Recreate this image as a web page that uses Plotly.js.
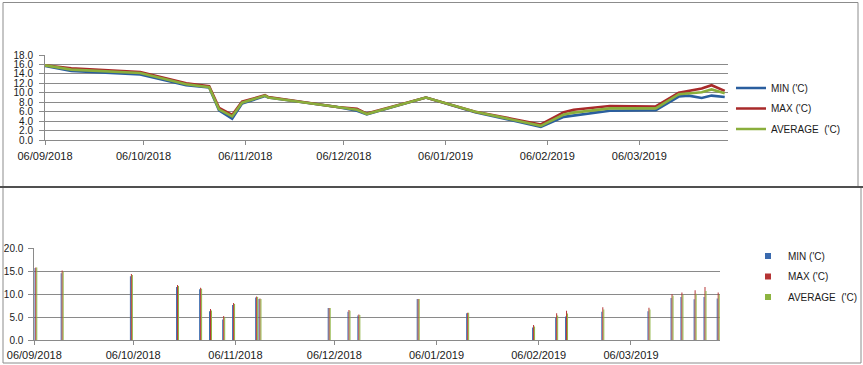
<!DOCTYPE html>
<html>
<head>
<meta charset="utf-8">
<script src="https://cdn.plot.ly/plotly-3.0.1.min.js"></script>
<style>html,body{margin:0;padding:0;background:#fff;}#chart{width:863px;height:365px;}</style>
</head>
<body>
<div id="chart"></div>
<script>
// ---- data ----
var dates = ['2018-09-06','2018-09-14','2018-10-05','2018-10-19','2018-10-26','2018-10-29','2018-11-02','2018-11-05','2018-11-12','2018-11-13','2018-12-04','2018-12-10','2018-12-13','2018-12-31','2019-01-15','2019-02-04','2019-02-11','2019-02-14','2019-02-25','2019-03-11','2019-03-18','2019-03-21','2019-03-25','2019-03-28','2019-04-01'];
var minVals = [15.7,14.6,13.9,11.6,11.1,6.3,4.5,7.7,9.3,9.0,7.0,6.2,5.4,9.0,5.9,2.8,4.9,5.2,6.2,6.3,9.2,9.4,8.9,9.4,9.1];
var maxVals = [15.8,15.2,14.4,12.0,11.4,6.8,5.3,8.1,9.5,9.1,7.0,6.6,5.6,9.0,6.0,3.3,5.9,6.4,7.2,7.1,10.0,10.4,10.9,11.6,10.4];
var avgVals = [15.8,14.9,14.2,11.8,11.2,6.5,5.0,7.9,9.4,9.0,7.0,6.4,5.5,9.0,6.0,3.0,5.4,5.8,6.7,6.7,9.7,9.9,10.1,10.7,9.9];
var seriesNames = ["MIN ('C)", "MAX ('C)", "AVERAGE \u00a0('C)"];
var tickDates = ['2018-09-06','2018-10-06','2018-11-06','2018-12-06','2019-01-06','2019-02-06','2019-03-06'];
var tickLabels = ['06/09/2018','06/10/2018','06/11/2018','06/12/2018','06/01/2019','06/02/2019','06/03/2019'];
var topYTicks = [0,2,4,6,8,10,12,14,16,18];
var botYTicks = [0,5,10,15,20];

// ---- styles ----
var lineColors = ['#2A5E9E','#A82A2A','#8AAE3C'];
var barColors = ['#3A6AAE','#B53434','#8DB440'];
var FONT = 'Liberation Sans, Arial, sans-serif';
var DAY = 86400000;
var W = 863, H = 365;
function px(x){return x/W;}
function py(y){return 1 - y/H;}
var gridC = '#8a8a8a';

var series = [minVals, maxVals, avgVals];
var traces = [];
series.forEach(function(vals, i){
  traces.push({
    type:'scatter', mode:'lines', x:dates, y:vals, name:seriesNames[i],
    xaxis:'x', yaxis:'y', legend:'legend', legendgroup:'l'+i,
    line:{color:lineColors[i], width:2.6}, hoverinfo:'skip'
  });
});
series.forEach(function(vals, i){
  traces.push({
    type:'bar', x:dates, y:vals, name:seriesNames[i],
    xaxis:'x2', yaxis:'y2', showlegend:false,
    width:0.3*DAY, offset:(0.3*i)*DAY,
    marker:{color:barColors[i], line:{width:0}}, hoverinfo:'skip'
  });
});
// legend entries for the bar chart (small squares like the original)
series.forEach(function(vals, i){
  traces.push({
    type:'scatter', mode:'markers', x:[null], y:[null], name:seriesNames[i],
    xaxis:'x2', yaxis:'y2', legend:'legend2', legendgroup:'b'+i,
    marker:{symbol:'square', size:6, color:barColors[i]}, hoverinfo:'skip'
  });
});

var xCommon = {
  type:'date', range:['2018-09-06','2019-04-02'],
  tickmode:'array', tickvals:tickDates, ticktext:tickLabels,
  showgrid:false, zeroline:false, showline:true, linecolor:gridC, linewidth:1,
  ticks:'outside', ticklen:4, tickcolor:gridC,
  tickfont:{family:FONT, size:11, color:'#1a1a1a'}, fixedrange:true
};
var yCommon = {
  showgrid:true, gridcolor:gridC, gridwidth:1, zeroline:false,
  showline:true, linecolor:gridC, linewidth:1,
  ticks:'outside', ticklen:5, tickcolor:gridC, tickformat:'.1f',
  tickfont:{family:FONT, size:10, color:'#1a1a1a'}, fixedrange:true
};

var layout = {
  width:W, height:H, autosize:false,
  margin:{l:0,r:0,t:0,b:0,pad:0},
  paper_bgcolor:'#fff', plot_bgcolor:'#fff',
  showlegend:true, barmode:'overlay',
  font:{family:FONT, size:10, color:'#1a1a1a'},
  xaxis: Object.assign({}, xCommon, {domain:[px(45), px(728)], anchor:'y', ticklabelstandoff:2}),
  yaxis: Object.assign({}, yCommon, {domain:[py(140), py(55)], anchor:'x', range:[0,18], tickmode:'array', tickvals:topYTicks, ticklabelstandoff:4}),
  xaxis2: Object.assign({}, xCommon, {domain:[px(34.3), px(720)], anchor:'y2', ticklabelstandoff:0}),
  yaxis2: Object.assign({}, yCommon, {domain:[py(340.3), py(248.3)], anchor:'x2', range:[0,20], tickmode:'array', tickvals:botYTicks, ticklabelstandoff:3}),
  legend:{x:px(731), xanchor:'left', y:py(73.5), yanchor:'top', bgcolor:'rgba(0,0,0,0)', borderwidth:0,
    font:{family:FONT, size:10, color:'#1a1a1a'}, tracegroupgap:1.5, itemclick:false, itemdoubleclick:false},
  legend2:{x:px(748), xanchor:'left', y:py(241.5), yanchor:'top', bgcolor:'rgba(0,0,0,0)', borderwidth:0,
    font:{family:FONT, size:10, color:'#1a1a1a'}, tracegroupgap:1.5, itemclick:false, itemdoubleclick:false},
  shapes:[
    {type:'rect', xref:'paper', yref:'paper', x0:px(3), x1:px(858), y0:py(186.5), y1:py(2.5), line:{color:'#8c8c8c', width:1}},
    {type:'line', xref:'paper', yref:'paper', x0:px(0), x1:px(863), y0:py(187), y1:py(187), line:{color:'#505050', width:2}},
    {type:'line', xref:'paper', yref:'paper', x0:px(3), x1:px(3), y0:py(188), y1:py(363), line:{color:'#8c8c8c', width:1}},
    {type:'line', xref:'paper', yref:'paper', x0:px(3), x1:px(861), y0:py(363), y1:py(363), line:{color:'#8c8c8c', width:1}},
    {type:'line', xref:'paper', yref:'paper', x0:px(861), x1:px(861), y0:py(188), y1:py(363), line:{color:'#8c8c8c', width:1}}
  ]
};

Plotly.newPlot('chart', traces, layout, {staticPlot:true, displayModeBar:false});
</script>
</body>
</html>
